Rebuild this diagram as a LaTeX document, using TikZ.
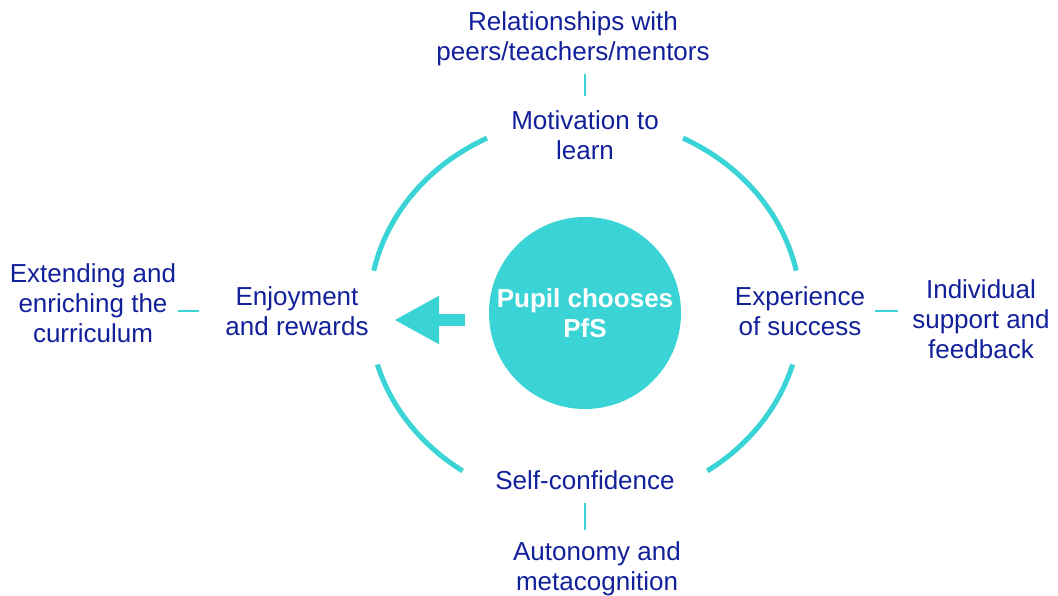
\documentclass[tikz,border=0pt]{standalone}
\usepackage{fontspec}
\setmainfont{Liberation Sans}
\usetikzlibrary{arrows.meta}
\definecolor{pfsteal}{HTML}{3BD4D6}
\definecolor{pfsnavy}{HTML}{12209A}
\tikzset{
	label/.style={align=center, inner sep=0pt, text=pfsnavy, font=\fontsize{18.5}{21.3}\selectfont},
	ring/.style={draw=pfsteal, line width=3.6pt},
	link/.style={draw=pfsteal, line width=2.1pt}
}
\begin{document}
\begin{tikzpicture}[x=0.025cm, y=0.025cm]
	\useasboundingbox (0,0) rectangle (1058,595);
	\node[circle, fill=pfsteal, minimum size=4.8cm, inner sep=0pt, align=center, text=white, font=\fontsize{18.5}{21.3}\selectfont\bfseries] (pupil) at (585,282) {Pupil chooses\\PfS};
	\node[label] (rel) at (573,556) {Relationships with\\peers/teachers/mentors};
	\node[label] (mot) at (585,460) {Motivation to\\learn};
	\node[label] (enj) at (297,284) {Enjoyment\\and rewards};
	\node[label] (ext) at (93,292) {Extending and\\enriching the\\curriculum};
	\node[label] (exp) at (800,284) {Experience\\of success};
	\node[label] (ind) at (981,276) {Individual\\support and\\feedback};
	\node[label] (self) at (585,115) {Self-confidence};
	\node[label] (aut) at (597,26) {Autonomy and\\metacognition};
	% ring round the hub
	\coordinate (hub) at (585,284);
	\draw[ring] (hub) ++(117:216 and 194) arc[start angle=117, end angle=168, x radius=216, y radius=194];
	\draw[ring] (hub) ++(63:216 and 194) arc[start angle=63, end angle=12, x radius=216, y radius=194];
	\draw[ring] (hub) ++(196:216 and 194) arc[start angle=196, end angle=235.5, x radius=216, y radius=194];
	\draw[ring] (hub) ++(344:216 and 194) arc[start angle=344, end angle=304.5, x radius=216, y radius=194];
	% ticks
	\draw[link, shorten <=0.2cm, shorten >=0.35cm] (rel.south -| mot.north) -- (mot.north);
	\draw[link, shorten <=0.33cm, shorten >=0.28cm] (self.south) -- (aut.north -| self.south);
	\draw[link, shorten <=0.05cm, shorten >=0.65cm] (ext.east |- enj.west) -- (enj.west);
	\draw[link, shorten <=0.25cm, shorten >=0.35cm] (exp.east) -- (ind.west |- exp.east);
	% arrow
	\coordinate (tail) at (465,275);
	\coordinate (tip) at (394,275);
	\draw[pfsteal, line width=8.5pt, -{Triangle[length=32pt, width=32pt]}] (tail) -- (tip);
\end{tikzpicture}
\end{document}
